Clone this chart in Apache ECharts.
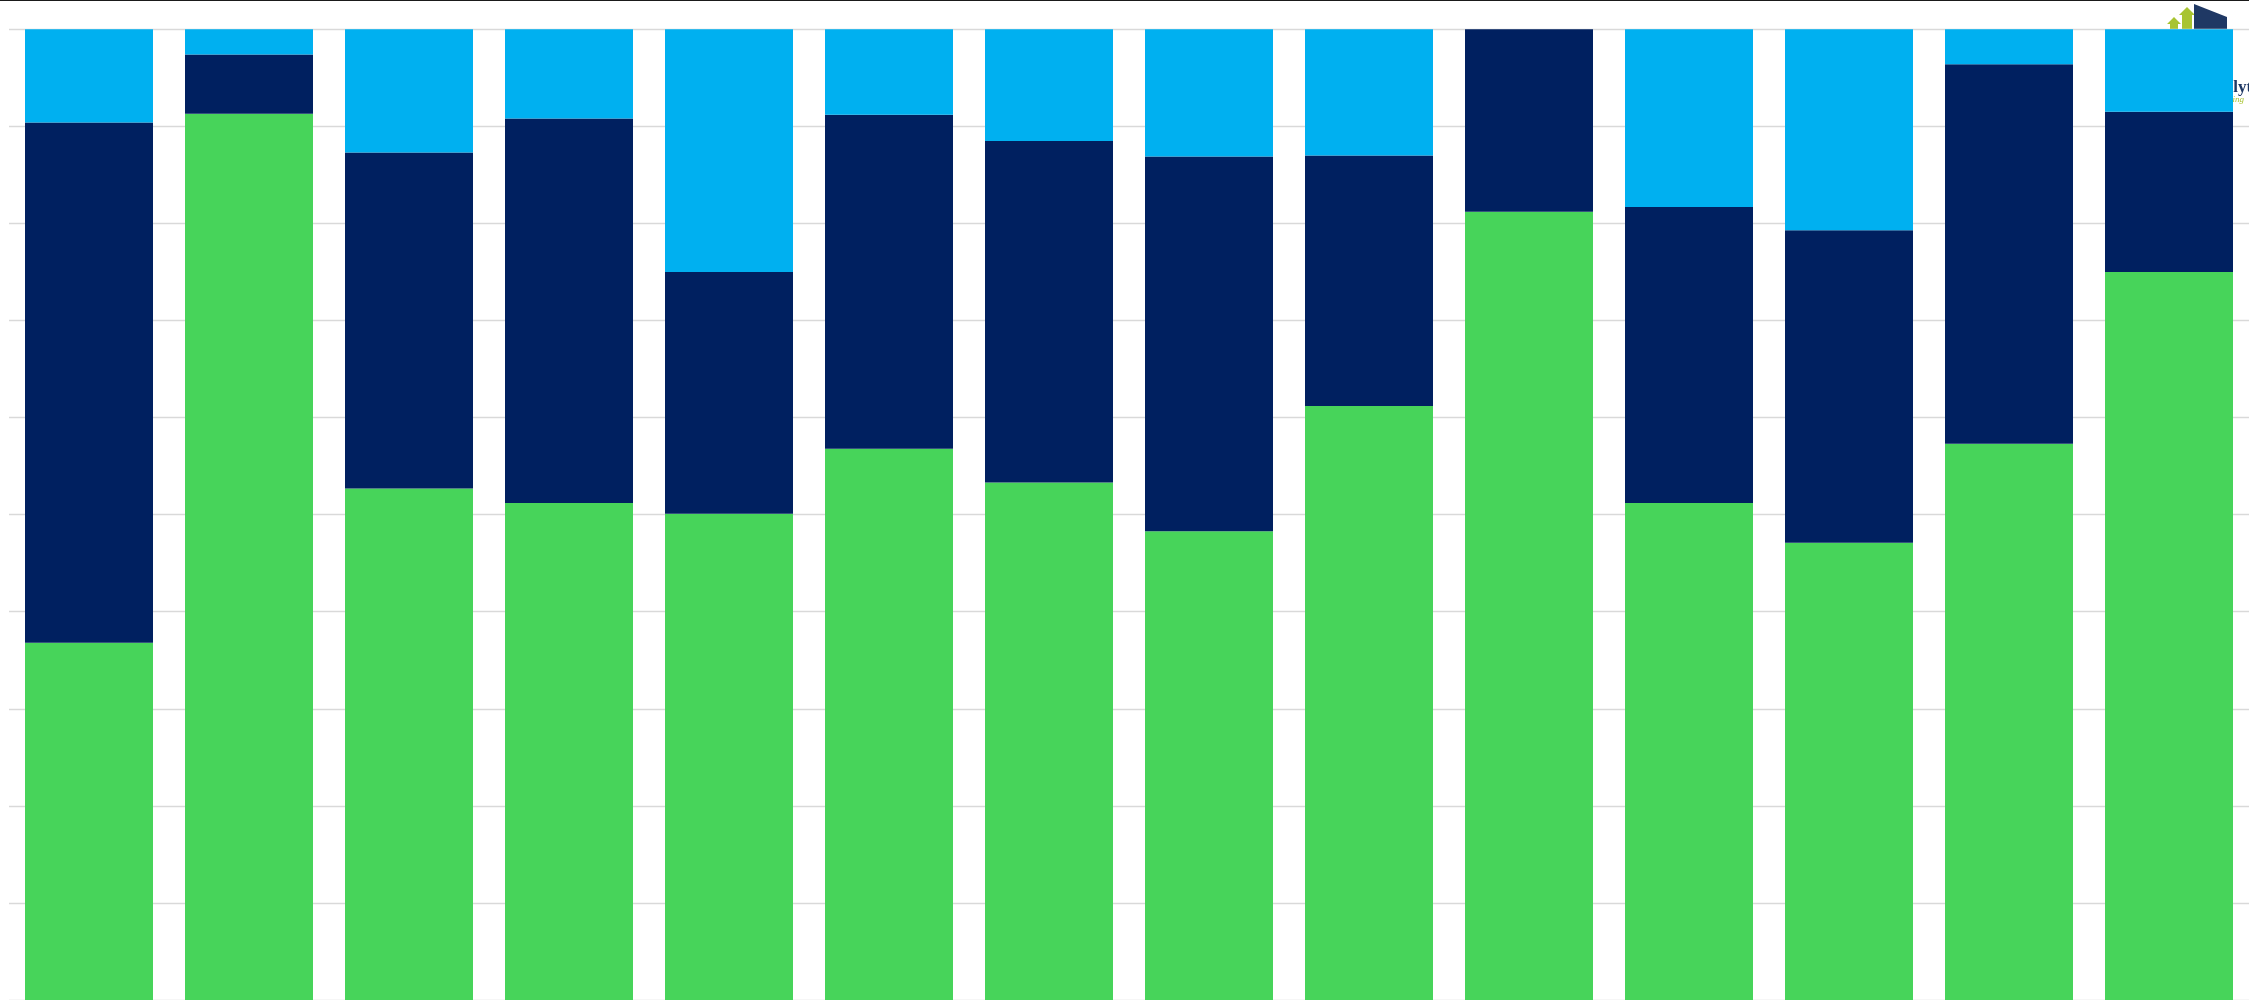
<!DOCTYPE html>
<html>
<head>
<meta charset="utf-8">
<script src="https://cdn.jsdelivr.net/npm/echarts@6/dist/echarts.min.js"></script>
<style>
  html, body { margin: 0; padding: 0; background: #fff; overflow: hidden; }
  #chart { width: 2249px; height: 1000px; }
</style>
</head>
<body>
<div id="chart"></div>
<script>
// ---- data (percent shares, 100% stacked) ----
const categories = ['1','2','3','4','5','6','7','8','9','10','11','12','13','14'];
const greenShare = [36.8, 91.3, 52.7, 51.2, 50.1, 56.8, 53.3, 48.3, 61.2, 81.2, 51.2, 47.1, 57.3, 75.0];
const navyShare  = [53.6,  6.1, 34.6, 39.6, 24.9, 34.4, 35.2, 38.6, 25.8, 18.8, 30.5, 32.2, 39.1, 16.5];
const cyanShare  = [ 9.6,  2.6, 12.7,  9.2, 25.0,  8.8, 11.5, 13.1, 13.0,  0.0, 18.3, 20.7,  3.6,  8.5];
const logoTitle = 'Analytics';
const logoSub = 'Modelling';

const chart = echarts.init(document.getElementById('chart'), null, { renderer: 'canvas' });

const option = {
  animation: false,
  backgroundColor: '#ffffff',
  grid: { left: 9, top: 29.3, width: 2241.8, height: 975.6, containLabel: false },
  xAxis: {
    type: 'category',
    data: categories,
    axisLine: { show: false },
    axisTick: { show: false },
    axisLabel: { show: false }
  },
  yAxis: {
    type: 'value',
    min: 0, max: 100, interval: 10,
    axisLine: { show: false },
    axisTick: { show: false },
    axisLabel: { show: false },
    splitLine: { show: true, lineStyle: { color: '#d9d9d9', width: 1.3 } }
  },
  graphic: [
    { type: 'rect', z: 100, shape: { x: 0, y: 0, width: 2249, height: 1 }, style: { fill: '#1a1a1a' } },
    // logo (sits behind the bars)
    { type: 'polygon', z: 0, shape: { points: [[2170,30],[2170,24],[2167,24],[2174,17],[2181,24],[2178,24],[2178,30]] }, style: { fill: '#a8c431' } },
    { type: 'polygon', z: 0, shape: { points: [[2182,30],[2182,15],[2179,15],[2187,7],[2195,15],[2192,15],[2192,30]] }, style: { fill: '#a8c431' } },
    { type: 'polygon', z: 0, shape: { points: [[2194,30],[2194,4],[2227,17],[2227,30]] }, style: { fill: '#1f3864' } },
    { type: 'text', z: 0, style: { x: 2203, y: 96, text: logoTitle, fill: '#1f3864', font: 'bold 17px "Liberation Serif", serif', textVerticalAlign: 'bottom' } },
    { type: 'text', z: 0, style: { x: 2207, y: 104, text: logoSub, fill: '#a8c431', font: 'italic 9px "Liberation Serif", serif', textVerticalAlign: 'bottom' } }
  ],
  series: [
    {
      name: 'Green', type: 'bar', stack: 'total', data: greenShare,
      barCategoryGap: '20%',
      itemStyle: { color: '#47d45a' }, z: 2
    },
    {
      name: 'Navy', type: 'bar', stack: 'total', data: navyShare,
      barCategoryGap: '20%',
      itemStyle: { color: '#002060' }, z: 2
    },
    {
      name: 'Cyan', type: 'bar', stack: 'total', data: cyanShare,
      barCategoryGap: '20%',
      itemStyle: { color: '#00b0f0' }, z: 2
    }
  ]
};

chart.setOption(option);
</script>
</body>
</html>
